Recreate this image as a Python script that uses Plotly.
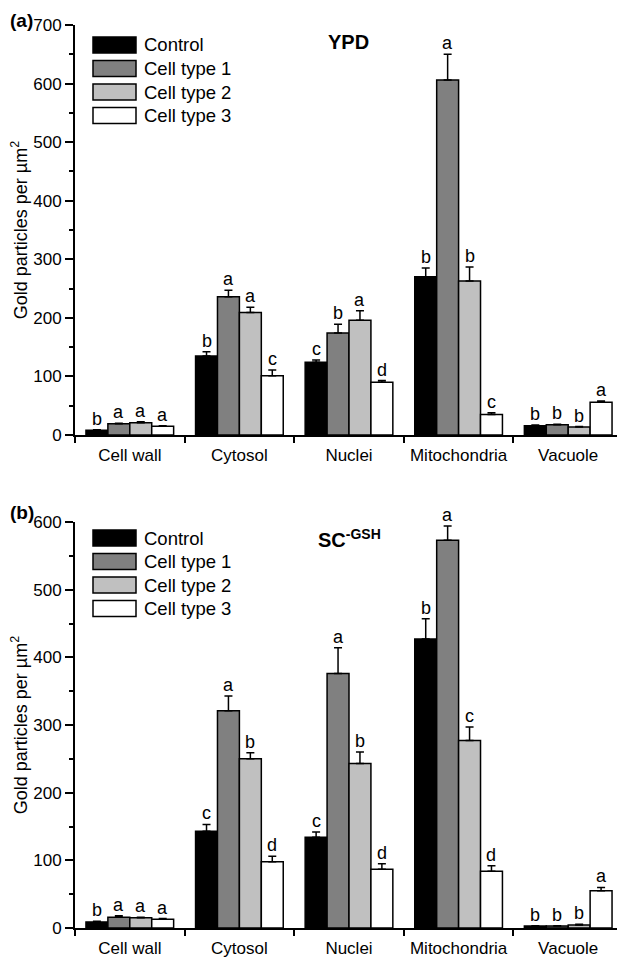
import plotly.graph_objects as go

FONT_FAMILY = "Arial, 'Liberation Sans', Helvetica, sans-serif"
INK = "#000000"

CATEGORIES = ["Cell wall", "Cytosol", "Nuclei", "Mitochondria", "Vacuole"]
SERIES = ["Control", "Cell type 1", "Cell type 2", "Cell type 3"]
COLORS = ["#000000", "#808080", "#c0c0c0", "#ffffff"]

# (a) YPD
YPD_VALUES = [
    [8, 135, 124, 270, 16],
    [19, 236, 174, 606, 17.5],
    [21, 209, 196, 263, 13.5],
    [15, 101, 90, 35, 56],
]
YPD_ERRORS = [
    [1, 7, 4, 15, 1],
    [1, 11, 15, 44, 1],
    [1.5, 9, 16, 24, 1],
    [1, 10, 3, 3, 2],
]
YPD_LETTERS = [
    ["b", "b", "c", "b", "b"],
    ["a", "a", "b", "a", "b"],
    ["a", "a", "a", "b", "b"],
    ["a", "c", "d", "c", "a"],
]

# (b) SC-GSH
SC_VALUES = [
    [9, 143, 134, 427, 3],
    [16, 321, 376, 573, 3],
    [15, 250, 243, 277, 4.5],
    [13, 98, 87, 84, 55],
]
SC_ERRORS = [
    [1, 10, 8, 30, 0.5],
    [2, 22, 38, 21, 0.5],
    [1, 9, 17, 20, 1],
    [1, 8, 8, 8, 5],
]
SC_LETTERS = [
    ["b", "c", "c", "b", "b"],
    ["a", "a", "a", "a", "b"],
    ["a", "b", "b", "c", "b"],
    ["a", "d", "d", "d", "a"],
]

# page has an 8px body margin, so the figure is laid out in screen pixels minus OFF
OFF = 8
W, H = 625 - OFF, 959 - OFF
AX_LEFT, AX_RIGHT = 75, 623          # screen x of the plot area
TOP_Y0, TOP_Y1 = 25, 435             # screen y of panel (a) top / baseline
BOT_Y0, BOT_Y1 = 522, 928            # screen y of panel (b) top / baseline
M_L, M_R = AX_LEFT - OFF, W - (AX_RIGHT - OFF)
M_T, M_B = TOP_Y0 - OFF, H - (BOT_Y1 - OFF)
BARGAP = 0.2
plot_w = W - M_L - M_R
plot_h = H - M_T - M_B
bar_px = plot_w / len(CATEGORIES) * (1 - BARGAP) / len(SERIES)


def px(x, y):
    """screen pixel position -> paper coordinates"""
    return (x - AX_LEFT) / plot_w, (BOT_Y1 - y) / plot_h


fig = go.Figure()
annotations = []
shapes = []

panels = [
    (YPD_VALUES, YPD_ERRORS, YPD_LETTERS, "x", "y"),
    (SC_VALUES, SC_ERRORS, SC_LETTERS, "x2", "y2"),
]
for values, errors, letters, xa, ya in panels:
    for i, name in enumerate(SERIES):
        fig.add_trace(go.Bar(
            x=CATEGORIES, y=values[i], name=name, xaxis=xa, yaxis=ya, showlegend=False,
            marker=dict(color=COLORS[i], line=dict(color=INK, width=1.5)),
            error_y=dict(type="data", array=errors[i], arrayminus=[0] * len(CATEGORIES),
                         symmetric=False, color=INK, thickness=1.5, width=4),
        ))
        for j, cat in enumerate(CATEGORIES):
            annotations.append(dict(
                x=cat, y=values[i][j] + errors[i][j], xref=xa, yref=ya,
                text=letters[i][j], showarrow=False, yanchor="bottom",
                xshift=(i - 1.5) * bar_px, yshift=-1,
                font=dict(size=18, color=INK),
            ))

# legends drawn as wide swatches, like the original figure
SWATCH_X0, SWATCH_X1, SWATCH_H, ROW_H = 93, 136, 16, 23.5
for first_row in (45, 538):
    for i, name in enumerate(SERIES):
        cy = first_row + i * ROW_H
        x0, y0 = px(SWATCH_X0, cy + SWATCH_H / 2)
        x1, y1 = px(SWATCH_X1, cy - SWATCH_H / 2)
        shapes.append(dict(type="rect", xref="paper", yref="paper", x0=x0, x1=x1, y0=y0, y1=y1,
                           fillcolor=COLORS[i], line=dict(color=INK, width=1.5)))
        tx, ty = px(SWATCH_X1 + 6, cy)
        annotations.append(dict(text=name, x=tx, y=ty, xref="paper", yref="paper",
                                xanchor="left", yanchor="middle", showarrow=False,
                                font=dict(size=18.5, color=INK)))


def y_axis(rng, domain, anchor):
    return dict(
        range=rng, domain=domain, anchor=anchor, dtick=100, automargin=False,
        showline=True, linecolor=INK, linewidth=2, showgrid=False, zeroline=False,
        ticks="outside", ticklen=8, tickwidth=2, tickcolor=INK,
        minor=dict(dtick=50, ticks="outside", ticklen=4, tickwidth=1.5, tickcolor=INK),
        tickfont=dict(size=17, color=INK),
        title=dict(text="Gold particles per µm<sup>2</sup>", font=dict(size=18, color=INK)),
    )


def x_axis(anchor):
    return dict(
        type="category", anchor=anchor, domain=[0, 1], automargin=False, tickangle=0,
        showline=True, linecolor=INK, linewidth=2, showgrid=False,
        ticks="outside", tickson="boundaries", ticklen=6, tickwidth=2, tickcolor=INK,
        ticklabelstandoff=4, tickfont=dict(size=17, color=INK),
    )


top_bottom = px(0, TOP_Y1)[1]
bot_top = px(0, BOT_Y0)[1]

for label, title, (lx, ly), (tx, ty) in [
    ("(a)", "YPD", (OFF, OFF), (348, 42)),
    ("(b)", "SC<sup>-GSH</sup>", (OFF, 500), (349, 538)),
]:
    lxp, lyp = px(lx, ly)
    txp, typ = px(tx, ty)
    annotations.append(dict(text=f"<b>{label}</b>", x=lxp, y=lyp, xref="paper", yref="paper",
                            xanchor="left", yanchor="top", showarrow=False,
                            font=dict(size=19, color=INK)))
    annotations.append(dict(text=f"<b>{title}</b>", x=txp, y=typ, xref="paper", yref="paper",
                            xanchor="center", yanchor="middle", showarrow=False,
                            font=dict(size=20, color=INK)))

fig.update_layout(
    width=W, height=H,
    margin=dict(l=M_L, r=M_R, t=M_T, b=M_B),
    paper_bgcolor="white", plot_bgcolor="white",
    font=dict(family=FONT_FAMILY, color=INK),
    barmode="group", bargap=BARGAP, bargroupgap=0,
    showlegend=False,
    xaxis=x_axis("y"),
    yaxis=y_axis([0, 700], [top_bottom, 1], "x"),
    xaxis2=x_axis("y2"),
    yaxis2=y_axis([0, 600], [0, bot_top], "x2"),
    annotations=annotations,
    shapes=shapes,
)

fig.write_html("out.html")
